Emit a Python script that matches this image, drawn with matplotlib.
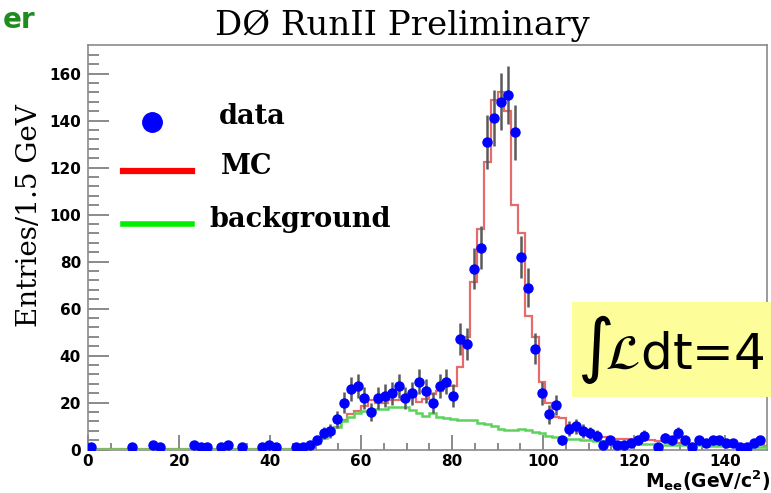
import numpy as np
import matplotlib
matplotlib.use("Agg")
import matplotlib.pyplot as plt
from matplotlib.lines import Line2D
from matplotlib.patches import Rectangle

# 1.5 GeV bins from 0 to 150
edges = np.arange(0, 150.01, 1.5)
centers = 0.5 * (edges[:-1] + edges[1:])

# observed counts per bin (100 bins)
data_counts = [
    1, 0, 0, 0, 0, 0, 1, 0, 0, 2,
    1, 0, 0, 0, 0, 2, 1, 1, 0, 1,
    2, 0, 1, 0, 0, 1, 2, 1, 0, 0,
    1, 1, 2, 4, 7, 8, 13, 20, 26, 27,
    22, 16, 22, 23, 24, 27, 22, 24, 29, 25,
    20, 27, 29, 23, 47, 45, 77, 86, 131, 141,
    148, 151, 135, 82, 69, 43, 24, 15, 19, 4,
    9, 10, 8, 7, 6, 2, 4, 2, 2, 3,
    4, 6, 0, 1, 5, 4, 7, 4, 1, 4,
    3, 4, 4, 3, 3, 1, 1, 3, 4, 0,
]

# background expectation
bkg = [
    0.2, 0.2, 0.2, 0.2, 0.2, 0.2, 0.2, 0.2, 0.2, 0.2,
    0.2, 0.2, 0.2, 0.2, 0.2, 0.2, 0.2, 0.2, 0.2, 0.2,
    0.2, 0.2, 0.2, 0.2, 0.2, 0.2, 0.2, 0.2, 0.2, 0.2,
    0.5, 1.0, 2.0, 3.0, 5.0, 7.0, 9.5, 12.0, 14.0, 15.5,
    16.5, 17.0, 17.5, 17.5, 18.0, 18.0, 18.0, 17.0, 15.5, 14.5,
    15.5, 14.0, 13.5, 13.0, 12.5, 12.5, 12.5, 11.5, 11.0, 10.0,
    9.0, 8.5, 8.5, 9.0, 8.5, 7.5, 7.0, 6.0, 5.5, 5.0,
    4.5, 4.5, 4.0, 4.0, 3.5, 3.5, 3.5, 3.0, 3.0, 3.0,
    2.5, 2.5, 2.5, 2.0, 2.0, 2.0, 2.0, 1.8, 1.8, 1.8,
    1.6, 1.6, 1.5, 1.5, 1.4, 1.4, 1.3, 1.3, 1.2, 1.2,
]

# signal + background simulation
mc = [
    0.2, 0.2, 0.2, 0.2, 0.2, 0.2, 0.2, 0.2, 0.2, 0.2,
    0.2, 0.2, 0.2, 0.2, 0.2, 0.2, 0.2, 0.2, 0.2, 0.2,
    0.2, 0.2, 0.2, 0.2, 0.2, 0.2, 0.2, 0.2, 0.2, 0.2,
    0.5, 1.0, 2.0, 3.0, 5.0, 7.0, 9.5, 12.5, 15.0, 16.5,
    18.5, 21.0, 20.0, 20.0, 21.0, 21.0, 22.5, 22.5, 20.5, 21.5,
    23.5, 25.0, 27.0, 27.0, 35.0, 48.0, 71.5, 94.0, 122.5, 149.0,
    152.0, 144.0, 104.0, 92.0, 57.0, 48.0, 29.0, 20.0, 14.0, 13.5,
    10.5, 9.0, 8.0, 7.5, 6.0, 5.5, 5.0, 4.5, 4.5, 4.5,
    4.5, 4.5, 4.0, 3.5, 3.5, 3.0, 3.0, 3.0, 2.5, 2.5,
    2.5, 2.5, 2.2, 2.2, 2.0, 2.0, 2.0, 1.8, 1.8, 1.6,
]

data_counts = np.array(data_counts, dtype=float)
nz = data_counts > 0

fig = plt.figure(figsize=(7.71, 4.93), dpi=100)
ax = fig.add_axes([88 / 771, 1 - 449.7 / 493, (767 - 88) / 771, (449.7 - 45) / 493])

ax.stairs(mc, edges, color="#e45c5c", lw=1.6, alpha=0.9, zorder=2)
ax.stairs(bkg, edges, color="#5dd35d", lw=1.8, zorder=3)
ax.errorbar(centers[nz], data_counts[nz], yerr=np.sqrt(data_counts[nz]),
            fmt="none", ecolor="#5a5a5a", elinewidth=1.8, zorder=4)
ax.plot(centers[nz], data_counts[nz], "o", color="#0000ff", ms=6.5, mec="#0000ff", zorder=5)

ax.set_xlim(0, 149.2)
ax.set_ylim(0, 172.2)
ax.set_xticks(np.arange(0, 141, 20))
ax.set_xticks(np.arange(0, 150, 5), minor=True)
ax.set_yticks(np.arange(0, 161, 20))
ax.set_yticks(np.arange(0, 172, 4), minor=True)
ax.tick_params(axis="both", which="both", direction="in", colors="#777777",
               labelcolor="black")
ax.tick_params(axis="y", which="major", length=15, width=1.2, pad=5)
ax.tick_params(axis="y", which="minor", length=8, width=1.2)
ax.tick_params(axis="x", which="major", length=11, width=1.2, pad=3)
ax.tick_params(axis="x", which="minor", length=5, width=1.2)
for lab in ax.get_xticklabels() + ax.get_yticklabels():
    lab.set_fontfamily("DejaVu Sans")
    lab.set_fontweight("bold")
    lab.set_fontsize(11)
for sp in ax.spines.values():
    sp.set_color("#8a8a8a")
    sp.set_linewidth(1.2)

# title and axis labels
fig.text(402 / 771, 1 - 26 / 493, "DØ RunII Preliminary", ha="center", va="center",
         family="DejaVu Serif", fontsize=24.5)
fig.text(30 / 771, 1 - 216 / 493, "Entries/1.5 GeV", ha="center", va="center",
         rotation=90, family="DejaVu Serif", fontsize=20)
fig.text(770 / 771, 1 - 481 / 493, r"$\mathbf{M_{ee}(GeV/c^{2})}$", ha="right",
         va="center", fontsize=13.5)
fig.text(3 / 771, 1 - 20 / 493, "er", ha="left", va="center", color="#1f8c1f",
         family="DejaVu Sans", fontweight="bold", fontsize=20)

# legend drawn by hand
fig.add_artist(Line2D([152 / 771], [1 - 122 / 493], marker="o", ms=14,
                      color="#0000ff", transform=fig.transFigure))
fig.add_artist(Line2D([123 / 771, 192 / 771], [1 - 171 / 493, 1 - 171 / 493],
                      lw=4.5, color="#ff0000", transform=fig.transFigure))
fig.add_artist(Line2D([123 / 771, 192 / 771], [1 - 224 / 493, 1 - 224 / 493],
                      lw=4, color="#00ee00", transform=fig.transFigure))
leg_font = dict(family="DejaVu Serif", fontweight="bold", fontsize=19.5, va="center", ha="left")
fig.text(219 / 771, 1 - 117 / 493, "data", **leg_font)
fig.text(221 / 771, 1 - 166 / 493, "MC", **leg_font)
fig.text(209 / 771, 1 - 220 / 493, "background", **leg_font)

# luminosity box
fig.add_artist(Rectangle((572 / 771, 1 - 397 / 493), 0.3, 95 / 493,
                         facecolor="#fdfd99", edgecolor="none",
                         transform=fig.transFigure, zorder=6))
fig.text(577 / 771, 1 - 350 / 493, r"$\int\!\mathcal{L}$dt=4", ha="left", va="center",
         family="DejaVu Sans", fontsize=36, zorder=7)

fig.savefig("out.png", dpi=100)
